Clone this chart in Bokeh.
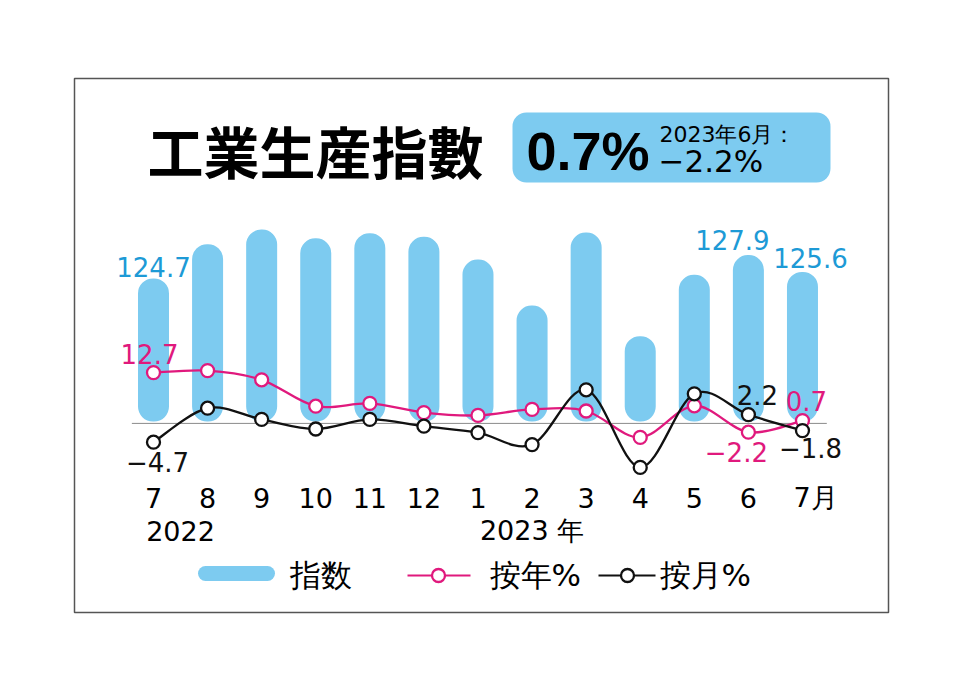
import numpy as np
from bokeh.plotting import figure
from bokeh.models import Range1d
from bokeh.core.properties import value
from bokeh.embed import file_html
from bokeh.resources import INLINE

# ---------------- data ----------------
month_labels = ["7", "8", "9", "10", "11", "12", "1", "2", "3", "4", "5", "6", "7月"]
year_labels = ["2022", "2023 年"]
index_values = [124.7, 129.4, 131.4, 130.2, 130.9, 130.4, 127.3, 121.0, 131.0, 116.8, 125.2, 127.9, 125.6]
yoy_pct = [12.7, 13.2, 10.9, 4.3, 5.0, 2.7, 2.0, 3.5, 3.1, -3.5, 4.4, -2.2, 0.7]
mom_pct = [-4.7, 3.8, 1.0, -1.4, 1.0, -0.7, -2.3, -5.3, 8.4, -11.0, 7.4, 2.2, -1.8]
title_text = "工業生産指數"
headline = "0.7%"
prev_label = "2023年6月："
prev_value = "−2.2%"
legend_labels = ["指数", "按年%", "按月%"]

BLUE = "#7dcbf0"
BLUE_TXT = "#1d9ad6"
PINK = "#e0197d"
BLACK = "#111111"

W, H = 960, 674
x = np.arange(len(month_labels))

p = figure(width=W, height=H, output_backend="svg", toolbar_location=None,
           x_axis_type=None, y_axis_type=None, min_border=0,
           x_range=Range1d(-2.829, 14.922), y_range=Range1d(-62.78, 105.73))
p.outline_line_color = None
p.grid.visible = False
p.background_fill_color = "white"
p.border_fill_color = "white"
p.extra_y_ranges = {"idx": Range1d(70.45, 162.78), "py": Range1d(H, 0)}
p.extra_x_ranges = {"px": Range1d(0, W)}

# frame
p.quad(left=[74], right=[888], top=[78], bottom=[612], fill_color=None,
       line_color="#555555", line_width=1.5, x_range_name="px", y_range_name="py")

# title
p.text(x=[315], y=[149], text=[title_text], text_font=value("Noto Sans CJK JP"),
       text_font_style="bold", text_font_size="56px", text_align="center",
       text_baseline="middle", text_color="black", x_range_name="px", y_range_name="py")

# headline box
p.quad(left=[512], right=[830], top=[112], bottom=[182], fill_color=BLUE, line_color=None,
       border_radius=14, x_range_name="px", y_range_name="py")
p.text(x=[526], y=[150], text=[headline], text_font=value("Liberation Sans"),
       text_font_style="bold", text_font_size="54px", text_align="left",
       text_baseline="middle", text_color="black", x_range_name="px", y_range_name="py")
p.text(x=[659], y=[134], text=[prev_label], text_font=value("DejaVu Sans"),
       text_font_size="22px", text_align="left", text_baseline="middle",
       text_color="black", x_range_name="px", y_range_name="py")
p.text(x=[658], y=[160], text=[prev_value], text_font=value("DejaVu Sans"),
       text_font_size="31px", text_align="left", text_baseline="middle",
       text_color="black", x_range_name="px", y_range_name="py")

# bars (capsules)
BAR_BASE = 105.1
p.vbar(x=x, top=index_values, bottom=BAR_BASE, width=31 / 54.08, fill_color=BLUE,
       line_color=None, border_radius=15, y_range_name="idx")

# zero line
p.segment(x0=[-0.4], y0=[0], x1=[12.45], y1=[0], line_color="#8a8a8a", line_width=1)


def smooth(xs, ys):
    xs = np.asarray(xs, float)
    ys = np.asarray(ys, float)
    n = len(xs)
    px_ = np.concatenate([[xs[0]], xs, [xs[-1]]])
    py_ = np.concatenate([[ys[0]], ys, [ys[-1]]])
    cx0 = xs[:-1] + (px_[2:n + 1] - px_[0:n - 1]) / 6
    cy0 = ys[:-1] + (py_[2:n + 1] - py_[0:n - 1]) / 6
    cx1 = xs[1:] - (px_[3:n + 2] - px_[1:n]) / 6
    cy1 = ys[1:] - (py_[3:n + 2] - py_[1:n]) / 6
    return dict(x0=xs[:-1], y0=ys[:-1], x1=xs[1:], y1=ys[1:], cx0=cx0, cy0=cy0, cx1=cx1, cy1=cy1)


s = smooth(x, yoy_pct)
p.bezier(line_color=PINK, line_width=2.3, **s)
s = smooth(x, mom_pct)
p.bezier(line_color=BLACK, line_width=2.3, **s)
p.scatter(x=x, y=yoy_pct, marker="circle", size=13, fill_color="white", line_color=PINK, line_width=2.3)
p.scatter(x=x, y=mom_pct, marker="circle", size=13, fill_color="white", line_color=BLACK, line_width=2.3)


def fmt(v):
    return f"{v:.1f}".replace("-", "−")


lab = dict(text_font=value("DejaVu Sans"), text_font_size="26px", text_align="center",
           text_baseline="middle")
# index labels
p.text(x=[0], y=[index_values[0]], text=[fmt(index_values[0])], text_color=BLUE_TXT,
       y_offset=-11, y_range_name="idx", **lab)
p.text(x=[11], y=[index_values[11]], text=[fmt(index_values[11])], text_color=BLUE_TXT,
       x_offset=-16, y_offset=-15, y_range_name="idx", **lab)
p.text(x=[12], y=[index_values[12]], text=[fmt(index_values[12])], text_color=BLUE_TXT,
       x_offset=8, y_offset=-14, y_range_name="idx", **lab)
# pct labels
p.text(x=[0], y=[yoy_pct[0]], text=[fmt(yoy_pct[0])], text_color=PINK, x_offset=-4, y_offset=-19, **lab)
p.text(x=[0], y=[mom_pct[0]], text=[fmt(mom_pct[0])], text_color=BLACK, x_offset=4, y_offset=20, **lab)
p.text(x=[11], y=[mom_pct[11]], text=[fmt(mom_pct[11])], text_color=BLACK, x_offset=9, y_offset=-20, **lab)
p.text(x=[12], y=[yoy_pct[12]], text=[fmt(yoy_pct[12])], text_color=PINK, x_offset=4, y_offset=-20, **lab)
p.text(x=[11], y=[yoy_pct[11]], text=[fmt(yoy_pct[11])], text_color=PINK, x_offset=-12, y_offset=20, **lab)
p.text(x=[12], y=[mom_pct[12]], text=[fmt(mom_pct[12])], text_color=BLACK, x_offset=8, y_offset=17, **lab)

# month labels
tick = dict(text_font=value("DejaVu Sans"), text_font_size="27px", text_baseline="middle",
            text_color="black", y_range_name="py")
p.text(x=x[:-1], y=[497] * (len(x) - 1), text=month_labels[:-1], text_align="center", **tick)
p.text(x=[x[-1]], y=[497], text=[month_labels[-1]], text_align="left", x_offset=-9, **tick)
p.text(x=[0.5, 7], y=[530, 530], text=year_labels, text_align="center", **tick)

# legend
leg = dict(x_range_name="px", y_range_name="py")
p.line(x=[205, 267], y=[573, 573], line_width=15, line_color=BLUE, line_cap="round", **leg)
p.line(x=[407, 470], y=[575, 575], line_width=2, line_color=PINK, **leg)
p.scatter(x=[438], y=[575], size=13, marker="circle", fill_color="white", line_color=PINK, line_width=2.3, **leg)
p.line(x=[598, 655], y=[575, 575], line_width=2, line_color=BLACK, **leg)
p.scatter(x=[627], y=[575], size=13, marker="circle", fill_color="white", line_color=BLACK, line_width=2.3, **leg)
p.text(x=[289, 489, 659], y=[574, 574, 574], text=legend_labels, text_font=value("DejaVu Sans"),
       text_font_size="31px", text_align="left", text_baseline="middle", text_color="black", **leg)

open("out.html", "w").write(file_html(p, INLINE))
